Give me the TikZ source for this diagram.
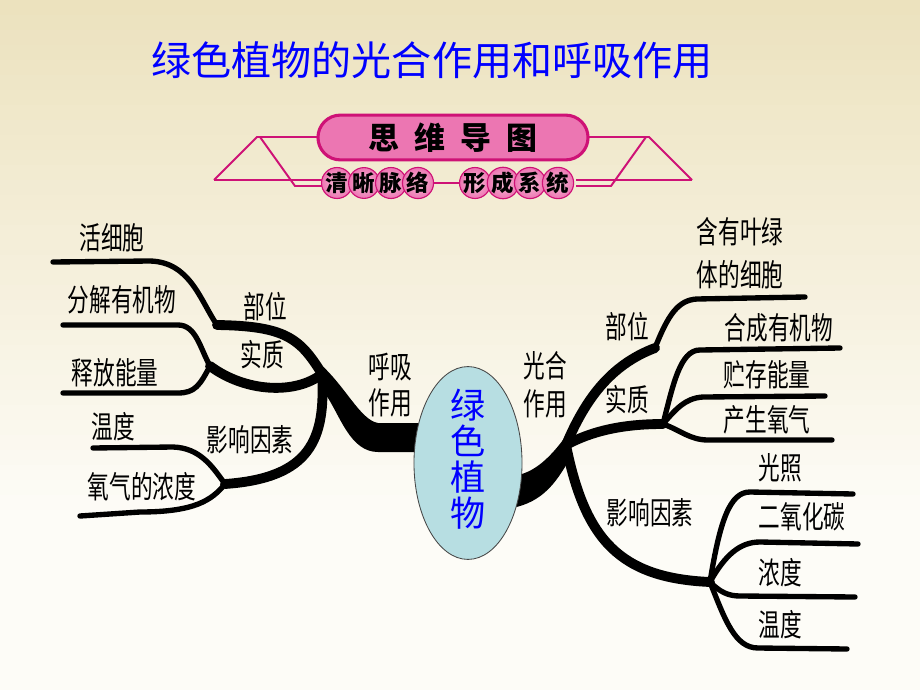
\documentclass[tikz,border=0pt]{standalone}
\usepackage{fontspec}
\newfontfamily\cjk{Noto Sans CJK SC}
\newfontfamily\cjkn[FakeStretch=0.7]{Noto Sans CJK SC}
\usetikzlibrary{shapes.geometric}

\definecolor{bgtop}{RGB}{236,226,190}
\definecolor{bgbot}{RGB}{253,252,247}
\definecolor{rose}{RGB}{206,18,118}
\definecolor{roselight}{RGB}{248,190,215}
\definecolor{rosemid}{RGB}{236,118,178}
\definecolor{cellblue}{RGB}{183,222,226}
\definecolor{cellrim}{RGB}{70,70,70}

\tikzset{
  txt/.style = {font=\cjkn\fontsize{22}{26}\selectfont, inner sep=0pt, align=center},
  leaf/.style = {line width=3.8pt, line cap=round},
  twig/.style = {line width=7pt, line cap=round},
  frame/.style = {draw=rose, line width=1.4pt},
  bead/.style = {circle, draw=rose, line width=0.8pt, inner sep=0pt, minimum size=0.68cm,
                 inner color=roselight, outer color=rosemid,
                 font=\cjk\bfseries\fontsize{16}{16}\selectfont}
}

\begin{document}
\begin{tikzpicture}[x=0.025cm, y=-0.025cm]
  \useasboundingbox (0,0) rectangle (920,690);
  % background, cream at the top fading to white
  \foreach \i in {0,...,45} {
    \pgfmathtruncatemacro\p{max(0,100-\i*100/34)}
    \fill[bgtop!\p!bgbot] (0,\i*15) rectangle (920,\i*15+15.6);
  }

  % title
  \node (title) [font=\cjk\fontsize{28.5}{30}\selectfont, text=blue, inner sep=0pt] at (432,60) {绿色植物的光合作用和呼吸作用};

  % banner
  \draw[frame] (214,180) -- (257,137) -- (320,137);
  \draw[frame] (260,137) -- (295,186) -- (330,186);
  \draw[frame] (214,180) -- (330,180);
  \draw[frame] (692,180) -- (649,137) -- (586,137);
  \draw[frame] (646,137) -- (611,186) -- (576,186);
  \draw[frame] (692,180) -- (576,180);
  \draw[frame] (337,183) -- (558,183);
  \node (banner) [draw=rose, line width=2.2pt, rounded corners=0.56cm, minimum width=6.75cm, minimum height=1.12cm,
    fill=rosemid, inner sep=0pt,
    font=\cjk\bfseries\fontsize{22}{22}\selectfont] at (453,137.5)
    {思\hspace{10.6pt}维\hspace{10.6pt}导\hspace{10.6pt}图};
  \node (b1) [bead] at (337,183) {清};
  \node (b2) [bead] at (364,183) {晰};
  \node (b3) [bead] at (391,183) {脉};
  \node (b4) [bead] at (418,183) {络};
  \node (b5) [bead] at (475,183) {形};
  \node (b6) [bead] at (503,183) {成};
  \node (b7) [bead] at (530,183) {系};
  \node (b8) [bead] at (558,183) {统};

  % left side: respiration
  \coordinate (jl) at (322,374);
  \coordinate (lbw) at (217,325);
  \coordinate (lsz) at (210,366);
  \coordinate (lyx) at (225,484);
  \coordinate (l1) at (53,262);
  \coordinate (l2) at (63,325);
  \coordinate (l3) at (63,393);
  \coordinate (l4) at (93,448);
  \coordinate (l5) at (80,516);
  \fill (424,423) -- (378,423) .. controls (360,420) and (345,385) .. (318,362)
        -- (326,395) .. controls (340,415) and (350,452) .. (378,452) -- (424,452) -- cycle;
  \draw[twig] (jl) .. controls (300,338) and (285,326) .. (lbw);
  \draw[twig] (jl) .. controls (295,395) and (245,392) .. (lsz);
  \draw[twig] (jl) .. controls (326,440) and (310,478) .. (lyx);
  \draw[leaf] (lbw) .. controls (200,300) and (190,262) .. (150,261) -- (l1);
  \draw[leaf] (lsz) .. controls (200,348) and (196,325) .. (178,325) -- (l2);
  \draw[leaf] (lsz) .. controls (200,385) and (195,393) .. (178,393) -- (l3);
  \draw[leaf] (lyx) .. controls (212,466) and (200,448) .. (173,447) -- (l4);
  \draw[leaf] (lyx) .. controls (212,500) and (195,512) .. (140,512) -- (l5);

  % right side: photosynthesis
  \coordinate (jr) at (566,445);
  \coordinate (rbw) at (655,348);
  \coordinate (rsz) at (663,424);
  \coordinate (ryx) at (710,582);
  \coordinate (r1) at (805,297);
  \coordinate (r2) at (840,348);
  \coordinate (r3) at (825,396);
  \coordinate (r4) at (832,440);
  \coordinate (r5) at (853,494);
  \coordinate (r6) at (858,544);
  \coordinate (r7) at (855,597);
  \coordinate (r8) at (847,649);
  \fill (512,476) .. controls (535,474) and (552,455) .. (566,436)
        -- (568,462) .. controls (556,482) and (543,502) .. (512,508) -- cycle;
  \draw[twig] (jr) .. controls (585,400) and (610,365) .. (rbw);
  \draw[twig] (jr) .. controls (590,432) and (620,424) .. (rsz);
  \draw[twig] (jr) .. controls (585,540) and (620,578) .. (ryx);
  \draw[leaf] (rbw) .. controls (668,315) and (678,300) .. (697,299) -- (r1);
  \draw[leaf] (rsz) .. controls (673,385) and (680,350) .. (700,350) -- (r2);
  \draw[leaf] (rsz) .. controls (675,410) and (685,398) .. (703,397) -- (r3);
  \draw[leaf] (rsz) .. controls (680,430) and (690,440) .. (708,440) -- (r4);
  \draw[leaf] (ryx) .. controls (720,520) and (730,492) .. (750,492) -- (r5);
  \draw[leaf] (ryx) .. controls (725,555) and (740,542) .. (760,542) -- (r6);
  \draw[leaf] (ryx) .. controls (720,592) and (728,596) .. (740,596) -- (r7);
  \draw[leaf] (ryx) .. controls (725,620) and (735,648) .. (758,648) -- (r8);

  % centre
  \node (plant) [ellipse, draw=cellrim, line width=0.6pt, fill=cellblue, minimum width=2.7cm, minimum height=4.82cm, inner sep=0pt] at (468,463) {};
  \node (plantname) [font=\cjk\fontsize{25}{25.5}\selectfont, text=blue, inner sep=0pt, align=center] at (468,459) {绿\\色\\植\\物};

  % labels, left
  \node (huxi) [txt, font=\cjkn\fontsize{22}{25.5}\selectfont] at (390,385) {呼吸\\作用};
  \node (lbuwei) [txt] at (265,307) {部位};
  \node (lshizhi) [txt] at (262,355) {实质};
  \node (lyinsu) [txt] at (250,440) {影响因素};
  \node (huoxibao) [txt] at (112,238) {活细胞};
  \node (fenjie) [txt] at (122,300) {分解有机物};
  \node (shifang) [txt] at (115,373) {释放能量};
  \node (lwendu) [txt] at (113,427) {温度};
  \node (yangqi) [txt] at (142,487) {氧气的浓度};

  % labels, right
  \node (guanghe) [txt, font=\cjkn\fontsize{22}{27}\selectfont] at (545,385) {光合\\作用};
  \node (rbuwei) [txt] at (627,327) {部位};
  \node (rshizhi) [txt] at (627,400) {实质};
  \node (ryinsu) [txt] at (650,513) {影响因素};
  \node (yelvti) [txt, font=\cjkn\fontsize{22}{30.5}\selectfont] at (740,253) {含有叶绿\\体的细胞};
  \node (hecheng) [txt] at (779,328) {合成有机物};
  \node (zhucun) [txt] at (767,375) {贮存能量};
  \node (chansheng) [txt] at (767,420) {产生氧气};
  \node (guangzhao) [txt] at (780,468) {光照};
  \node (co2) [txt] at (802,517) {二氧化碳};
  \node (nongdu) [txt] at (780,573) {浓度};
  \node (rwendu) [txt] at (780,625) {温度};
\end{tikzpicture}
\end{document}
